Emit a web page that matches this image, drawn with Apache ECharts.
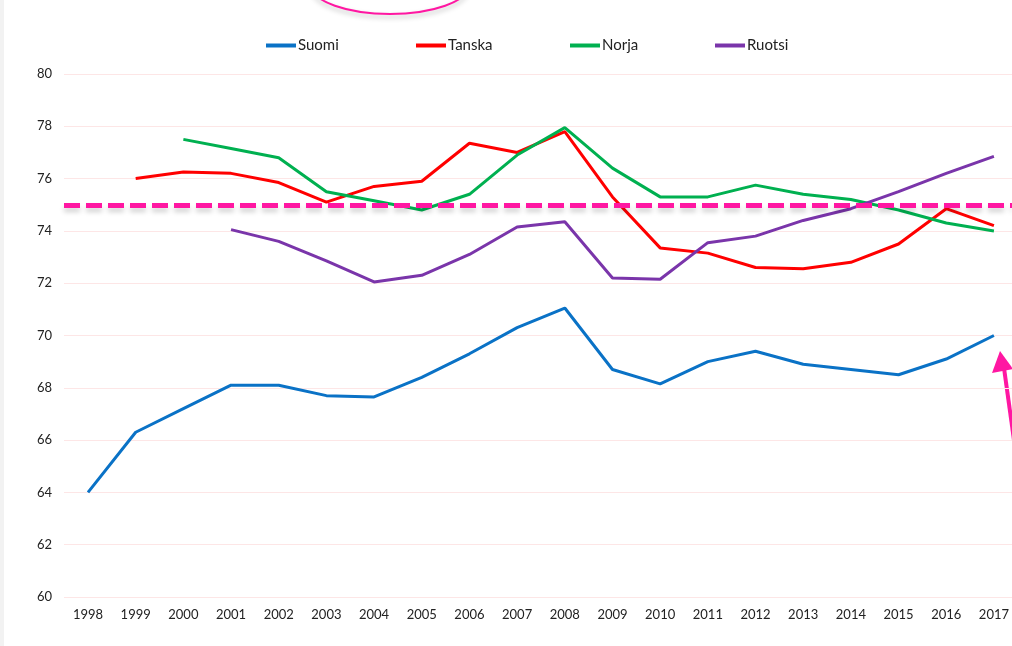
<!DOCTYPE html>
<html>
<head>
<meta charset="utf-8">
<script src="https://cdn.jsdelivr.net/npm/echarts@6/dist/echarts.min.js"></script>
<style>
  html, body { margin: 0; padding: 0; background: #fff; }
  #chart { width: 1012px; height: 646px; }
</style>
</head>
<body>
<div id="chart"></div>
<script>
'use strict';

const years = ['1998', '1999', '2000', '2001', '2002', '2003', '2004', '2005', '2006', '2007',
  '2008', '2009', '2010', '2011', '2012', '2013', '2014', '2015', '2016', '2017'];
const suomi = [64.0, 66.3, 67.2, 68.1, 68.1, 67.7, 67.65, 68.4, 69.3, 70.3,
  71.05, 68.7, 68.15, 69.0, 69.4, 68.9, 68.7, 68.5, 69.1, 70.0];
const tanska = [null, 76.0, 76.25, 76.2, 75.85, 75.1, 75.7, 75.9, 77.35, 77.0,
  77.8, 75.3, 73.35, 73.15, 72.6, 72.55, 72.8, 73.5, 74.85, 74.2];
const norja = [null, null, 77.5, 77.15, 76.8, 75.5, 75.15, 74.8, 75.4, 76.9,
  77.95, 76.4, 75.3, 75.3, 75.75, 75.4, 75.2, 74.8, 74.3, 74.0];
const ruotsi = [null, null, null, 74.05, 73.6, 72.85, 72.05, 72.3, 73.1, 74.15,
  74.35, 72.2, 72.15, 73.55, 73.8, 74.4, 74.85, 75.5, 76.2, 76.85];
const names = ['Suomi', 'Tanska', 'Norja', 'Ruotsi'];
const colors = ['#0a72c6', '#ff0000', '#00b050', '#7a35aa'];
const target = 75;

const pink = '#ff17a2';
const font = 'Lato, "Open Sans", sans-serif';
const legendLeft = [261, 411, 565, 710];

const chart = echarts.init(document.getElementById('chart'), null, { renderer: 'canvas' });

const series = [suomi, tanska, norja, ruotsi].map(function (data, i) {
  return {
    name: names[i],
    type: 'line',
    data: data,
    symbol: 'none',
    xAxisIndex: 0,
    yAxisIndex: 0,
    lineStyle: { width: 3, color: colors[i] },
    itemStyle: { color: colors[i] }
  };
});
// tavoiteviiva 75, koko leveydelle
series.push({
  type: 'line',
  data: [],
  xAxisIndex: 1,
  yAxisIndex: 1,
  markLine: {
    silent: true,
    symbol: 'none',
    label: { show: false },
    lineStyle: {
      color: pink, width: 5, type: [16, 6],
      shadowColor: 'rgba(0,0,0,0.18)', shadowBlur: 5, shadowOffsetY: 4
    },
    data: [{ yAxis: target }]
  }
});

const legends = names.map(function (n, i) {
  return {
    top: 33,
    left: legendLeft[i],
    itemWidth: 30,
    itemHeight: 4,
    icon: 'rect',
    textStyle: { fontSize: 15, color: '#222', fontFamily: font, padding: [0, 0, 0, -3] },
    data: [n]
  };
});

const option = {
  backgroundColor: '#fff',
  animation: false,
  textStyle: { fontFamily: font },
  legend: legends,
  grid: [
    { left: 88, right: 17, top: 74, bottom: 49 },
    { left: 64, right: 0, top: 74, bottom: 49 }
  ],
  xAxis: [
    {
      type: 'category',
      gridIndex: 0,
      data: years,
      boundaryGap: false,
      axisLine: { show: false },
      axisTick: { show: false },
      splitLine: { show: false },
      axisLabel: { color: '#222', fontSize: 13, margin: 11, fontFamily: font }
    },
    { type: 'value', gridIndex: 1, min: 0, max: 1, show: false }
  ],
  yAxis: [
    { type: 'value', gridIndex: 0, min: 60, max: 80, interval: 2, show: false },
    {
      type: 'value',
      gridIndex: 1,
      min: 60,
      max: 80,
      interval: 2,
      axisLine: { show: false },
      axisTick: { show: false },
      axisLabel: { color: '#222', fontSize: 13, margin: 12, fontFamily: font },
      splitLine: { lineStyle: { color: '#fde6e6', width: 1 } }
    }
  ],
  graphic: [
    { type: 'rect', left: 0, top: 0, shape: { width: 4, height: 646 }, style: { fill: '#f2f2f2' }, silent: true },
    {
      type: 'ellipse', shape: { cx: 390, cy: -14, rx: 78, ry: 28 },
      style: { fill: 'none', stroke: pink, lineWidth: 2, shadowColor: 'rgba(0,0,0,0.25)', shadowBlur: 5, shadowOffsetY: 3 },
      silent: true
    },
    {
      type: 'polyline', shape: { points: [[1014, 440], [1004, 368]] },
      style: { stroke: pink, lineWidth: 4, fill: 'none' }, silent: true
    },
    {
      type: 'polygon', shape: { points: [[1000, 351], [992, 373], [1013, 369]] },
      style: { fill: pink }, silent: true
    }
  ],
  series: series
};

option && chart.setOption(option);
</script>
</body>
</html>
